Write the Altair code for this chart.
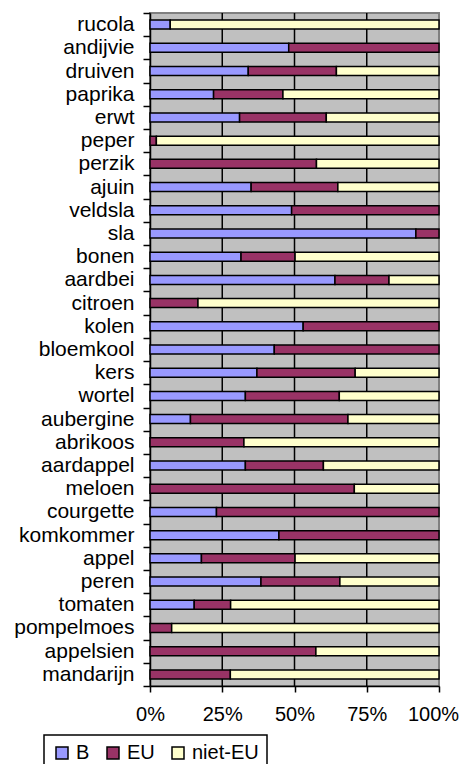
import altair as alt
import pandas as pd

categories = ["rucola", "andijvie", "druiven", "paprika", "erwt", "peper", "perzik",
              "ajuin", "veldsla", "sla", "bonen", "aardbei", "citroen", "kolen",
              "bloemkool", "kers", "wortel", "aubergine", "abrikoos", "aardappel",
              "meloen", "courgette", "komkommer", "appel", "peren", "tomaten",
              "pompelmoes", "appelsien", "mandarijn"]
b_vals = [7, 48, 34, 22, 31, 0, 0, 35, 49, 92, 31.5, 64, 0, 53, 43, 37, 33, 14, 0,
          33, 0, 23, 44.6, 17.8, 38.4, 15.3, 0, 0, 0]
eu_vals = [0, 52, 30.5, 24, 30, 2.2, 57.6, 30, 51, 8, 18.7, 18.7, 16.6, 47, 57, 34,
           32.5, 54.5, 32.5, 27, 70.7, 77, 55.4, 32.4, 27.3, 12.6, 7.5, 57.4, 27.8]
niet_vals = [93, 0, 35.5, 54, 39, 97.8, 42.4, 35, 0, 0, 49.8, 17.3, 83.4, 0, 0, 29,
             34.5, 31.5, 67.5, 40, 29.3, 0, 0, 49.8, 34.3, 72.1, 92.5, 42.6, 72.2]
series = ["B", "EU", "niet-EU"]
colors = ["#9999FF", "#993366", "#FFFFCC"]
x_ticks = [0, 0.25, 0.5, 0.75, 1.0]
grid_vals = [0.25, 0.5, 0.75]

rows = []
for i, c in enumerate(categories):
    for k, (s, vals) in enumerate(zip(series, [b_vals, eu_vals, niet_vals])):
        if vals[i] > 0:
            rows.append({"cat": c, "series": s, "value": vals[i], "ord": k})
df = pd.DataFrame(rows)

FONT = "Liberation Sans"

grid = alt.Chart(pd.DataFrame({"g": grid_vals})).mark_rule(
    color="black", strokeWidth=1.5
).encode(x=alt.X("g:Q", scale=alt.Scale(domain=[0, 1], nice=False)))

bars = alt.Chart(df).mark_bar(size=9, stroke="black", strokeWidth=1.5).encode(
    y=alt.Y("cat:N", sort=categories, title=None,
            scale=alt.Scale(paddingInner=0, paddingOuter=0),
            axis=alt.Axis(tickBand="extent", labelFontSize=21, labelFont=FONT,
                          labelColor="black", tickColor="black", domainColor="black",
                          tickSize=7, tickWidth=1.5, domainWidth=1.5, labelPadding=9)),
    x=alt.X("value:Q", stack="normalize", title=None,
            scale=alt.Scale(domain=[0, 1], nice=False),
            axis=alt.Axis(values=x_ticks, format=".0%", grid=False, labelFontSize=20,
                          labelFont=FONT, labelColor="black", tickColor="black",
                          domainColor="black", tickSize=6, tickWidth=1.5,
                          domainWidth=1.5, labelPadding=12, labelFlush=False,
                          labelOffset={"condition": {"test": "datum.value >= 1",
                                                     "value": -6},
                                       "value": 0})),
    color=alt.Color("series:N", scale=alt.Scale(domain=series, range=colors),
                    legend=alt.Legend(title=None, orient="none", direction="horizontal",
                                      legendX=-106, legendY=722, symbolType="square",
                                      symbolSize=144, symbolStrokeColor="black",
                                      symbolStrokeWidth=1.5, labelFontSize=20,
                                      labelFont=FONT, labelColor="black",
                                      strokeColor="black", fillColor="white",
                                      padding=8, columnPadding=13, labelOffset=4)),
    order=alt.Order("ord:Q"),
)

chart = alt.layer(grid, bars).properties(
    width=289, height=673,
    autosize=alt.AutoSizeParams(type="none"),
    padding={"left": 142, "top": 5, "right": 21, "bottom": 78},
).configure_view(
    fill="#C0C0C0", stroke="#808080", strokeWidth=2
).configure_legend(strokeWidth=1.5)

chart.save("out.html", embed_options={"renderer": "svg", "actions": False})
